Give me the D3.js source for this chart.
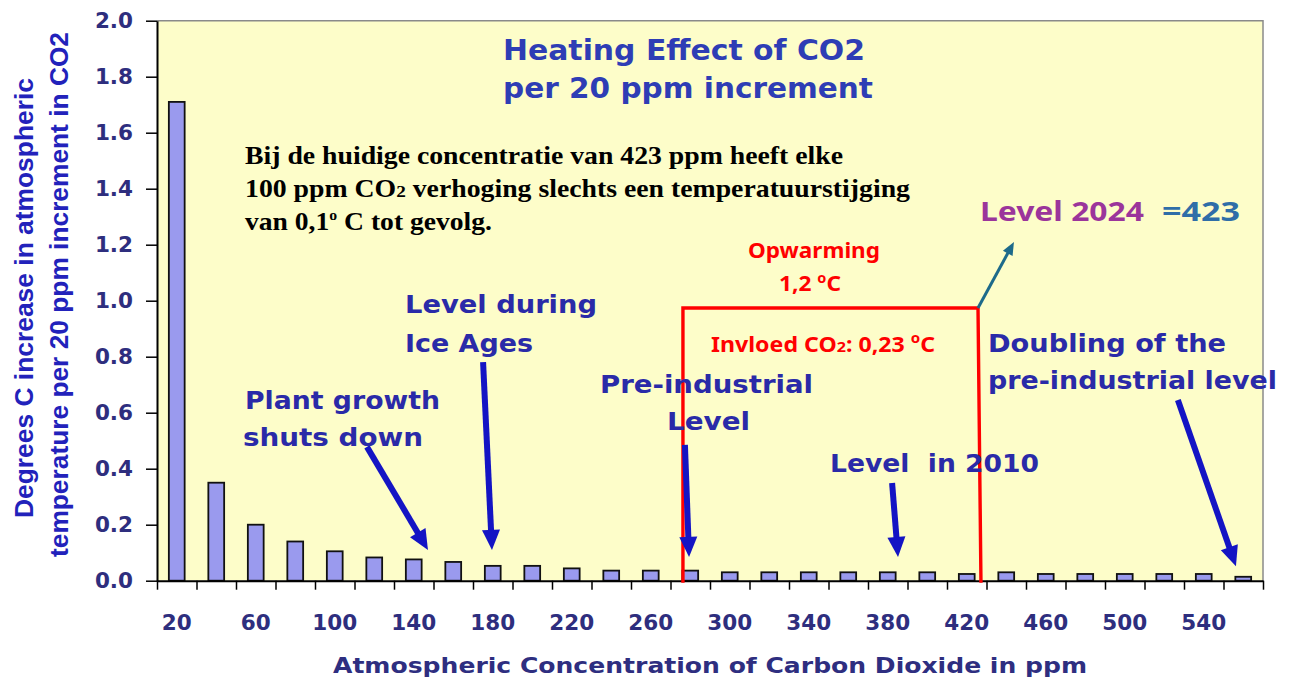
<!DOCTYPE html>
<html>
<head>
<meta charset="utf-8">
<script src="https://cdn.jsdelivr.net/npm/d3@7"></script>
<style>
  body { margin: 0; background: #fff; }
  svg { display: block; }
  text { white-space: pre; }
</style>
</head>
<body>
<div class="chart"></div>
<script>
(function() {
  // CO2 concentration (ppm), one bar per 20 ppm step
  var ppm = [20, 40, 60, 80, 100, 120, 140, 160, 180, 200, 220, 240, 260, 280,
             300, 320, 340, 360, 380, 400, 420, 440, 460, 480, 500, 520, 540, 560];
  // degrees C per 20 ppm increment
  var degrees = [1.71, 0.35, 0.20, 0.14, 0.105, 0.083, 0.076, 0.067, 0.053, 0.053,
                 0.044, 0.036, 0.036, 0.036, 0.030, 0.030, 0.030, 0.030, 0.030, 0.030,
                 0.024, 0.030, 0.024, 0.024, 0.024, 0.024, 0.024, 0.014];
  var xTickLabels = [20, 60, 100, 140, 180, 220, 260, 300, 340, 380, 420, 460, 500, 540];
  var yTicks = [0, 0.2, 0.4, 0.6, 0.8, 1.0, 1.2, 1.4, 1.6, 1.8, 2.0];

  var width = 1106, height = 560;
  var svg = d3.select('.chart').append('svg')
    .attr('width', 1293)
    .attr('height', 682);

  var g = svg.append('g').attr('transform', 'translate(157,20.7)');

  var x = d3.scaleBand().domain(ppm).range([0, width]).paddingInner(0.6).paddingOuter(0.3);
  var xLin = d3.scaleLinear().domain([ppm[0] - 10, ppm[ppm.length - 1] + 10]).range([0, width]);
  var y = d3.scaleLinear().domain([0, 2]).range([height, 0]);

  // plot area
  g.append('rect').attr('width', width).attr('height', height).attr('fill', '#fdfdc9');
  g.append('path')
    .attr('d', 'M0,0H' + width + 'V' + height)
    .attr('fill', 'none').attr('stroke', '#8a8a8a').attr('stroke-width', 1.5);

  // bars
  g.selectAll('.bar')
    .data(ppm)
    .enter()
    .append('rect')
    .attr('class', 'bar')
    .attr('x', function(d) { return x(d); })
    .attr('y', function(d, i) { return y(degrees[i]); })
    .attr('width', x.bandwidth())
    .attr('height', function(d, i) { return height - y(degrees[i]); })
    .attr('fill', '#9a9aee')
    .attr('stroke', '#111')
    .attr('stroke-width', 1.8);

  // y axis
  var yAxis = g.append('g')
    .call(d3.axisLeft(y).tickValues(yTicks).tickFormat(d3.format('.1f'))
      .tickSize(11).tickSizeOuter(0).tickPadding(13));
  yAxis.select('.domain').attr('stroke', '#000').attr('stroke-width', 2);
  yAxis.selectAll('.tick line').attr('stroke', '#000').attr('stroke-width', 1.5);
  yAxis.selectAll('text').attr('fill', '#2e2e7e')
    .style('font-family', '"DejaVu Sans"').style('font-weight', 'bold').style('font-size', '21.5px');

  // x axis: tick marks on the band edges
  var edges = ppm.map(function(d) { return d - 10; }).concat([ppm[ppm.length - 1] + 10]);
  var xAxis = g.append('g')
    .attr('transform', 'translate(0,' + height + ')')
    .call(d3.axisBottom(xLin).tickValues(edges).tickFormat('').tickSize(9).tickSizeOuter(0));
  xAxis.select('.domain').attr('stroke', '#000').attr('stroke-width', 2);
  xAxis.selectAll('.tick line').attr('stroke', '#000').attr('stroke-width', 1.5);

  // x labels under every other bar
  var xLab = g.append('g')
    .attr('transform', 'translate(0,' + height + ')')
    .call(d3.axisBottom(x).tickValues(xTickLabels).tickSize(0).tickPadding(34));
  xLab.select('.domain').remove();
  xLab.selectAll('text').attr('fill', '#2e2e7e')
    .style('font-family', '"DejaVu Sans"').style('font-weight', 'bold').style('font-size', '21.5px');

  // helper for stretched text
  function txt(px, py, str, size, fam, color, len, anchor) {
    var t = svg.append('text')
      .attr('x', px).attr('y', py)
      .attr('fill', color)
      .style('font-family', fam)
      .style('font-weight', 'bold')
      .style('font-size', size + 'px')
      .attr('text-anchor', anchor || 'start')
      .text(str);
    if (len) t.attr('textLength', len).attr('lengthAdjust', 'spacingAndGlyphs');
    return t;
  }

  var sans = '"DejaVu Sans", Verdana, sans-serif';
  var noto = '"Noto Sans", sans-serif';
  var serif = '"Liberation Serif", "Times New Roman", serif';
  var narrow = '"Liberation Sans Narrow", "Arial Narrow", "Liberation Sans", sans-serif';

  // axis titles
  txt(710, 673, 'Atmospheric Concentration of Carbon Dioxide in ppm', 21, sans, '#2e2e80', 754, 'middle');
  txt(0, 0, 'Degrees C increase in atmospheric', 26, narrow, '#2222bb', 440, 'middle')
    .attr('transform', 'translate(33,298) rotate(-90)');
  txt(0, 0, 'temperature per 20 ppm increment in CO2', 26, narrow, '#2222bb', 525, 'middle')
    .attr('transform', 'translate(68,294.5) rotate(-90)');

  // chart title
  txt(503, 60, 'Heating Effect of CO2', 28, sans, '#2e3db5', 362);
  txt(503, 98, 'per 20 ppm increment', 28, sans, '#2e3db5', 370);

  // Dutch note
  txt(245, 164, 'Bij de huidige concentratie van 423 ppm heeft elke', 24.5, serif, '#000', 598);
  var l2 = txt(245, 197, '', 24.5, serif, '#000', 665);
  l2.append('tspan').text('100 ppm CO');
  l2.append('tspan').style('font-size', '17px').text('2');
  l2.append('tspan').text(' verhoging slechts een temperatuurstijging');
  var l3 = txt(245, 230, '', 24.5, serif, '#000', 247);
  l3.append('tspan').text('van 0,1');
  l3.append('tspan').attr('dy', -10).style('font-size', '14px').text('o');
  l3.append('tspan').attr('dy', 10).text(' C tot gevolg.');

  // level 2024
  txt(980, 221, 'Level 2024', 27, noto, '#9b359b', 164);
  txt(1162, 221, '=423', 27, noto, '#2f6ea8', 78);

  // red annotations
  txt(814, 258, 'Opwarming', 22, noto, '#ff0000', 132, 'middle');
  var w1 = txt(810, 291, '', 22, noto, '#ff0000', 62, 'middle');
  w1.append('tspan').text('1,2 ');
  w1.append('tspan').attr('dy', -8).style('font-size', '14px').text('o');
  w1.append('tspan').attr('dy', 8).text('C');
  var w2 = txt(711, 352, '', 21.5, noto, '#ff0000', 224);
  w2.append('tspan').text('Invloed CO');
  w2.append('tspan').style('font-size', '15px').text('2');
  w2.append('tspan').text(': 0,23 ');
  w2.append('tspan').attr('dy', -9).style('font-size', '14px').text('o');
  w2.append('tspan').attr('dy', 9).text('C');

  // red bracket from pre-industrial to today
  var box = [[276.3, -0.007], [276.3, 0.974], [425.7, 0.974], [427.2, -0.007]];
  g.append('path')
    .attr('d', d3.line().x(function(d) { return xLin(d[0]); }).y(function(d) { return y(d[1]); })(box))
    .attr('fill', 'none').attr('stroke', '#ff0000').attr('stroke-width', 3.4);

  // blue labels
  var navy = '#2a2aa8';
  txt(405, 313, 'Level during', 25, sans, navy, 192);
  txt(405, 352, 'Ice Ages', 25, sans, navy, 128);
  txt(245, 409, 'Plant growth', 25, sans, navy, 195);
  txt(243, 446, 'shuts down', 25, sans, navy, 180);
  txt(600, 393, 'Pre-industrial', 25, sans, navy, 213);
  txt(667, 430, 'Level', 25, sans, navy, 83);
  txt(830, 472, 'Level  in 2010', 25, sans, navy, 209);
  txt(988, 352, 'Doubling of the', 25, sans, navy, 238);
  txt(988, 389, 'pre-industrial level', 25, sans, navy, 289);

  // arrows, in data units (ppm, degrees)
  function arrow(a, b, color, sw, headLen, headW) {
    var x1 = xLin(a[0]), y1 = y(a[1]), x2 = xLin(b[0]), y2 = y(b[1]);
    var dx = x2 - x1, dy = y2 - y1, L = Math.sqrt(dx * dx + dy * dy);
    var ux = dx / L, uy = dy / L;
    var bx = x2 - ux * headLen, by = y2 - uy * headLen;
    g.append('line')
      .attr('x1', x1).attr('y1', y1).attr('x2', bx + ux * 2).attr('y2', by + uy * 2)
      .attr('stroke', color).attr('stroke-width', sw);
    g.append('path')
      .attr('d', 'M' + x2 + ',' + y2 +
        'L' + (bx - uy * headW / 2) + ',' + (by + ux * headW / 2) +
        'L' + (bx + uy * headW / 2) + ',' + (by - ux * headW / 2) + 'Z')
      .attr('fill', color);
  }
  var blue = '#1414c4';
  arrow([116.3, 0.478], [147.2, 0.110], blue, 6, 20, 18);
  arrow([175.1, 0.781], [179.6, 0.110], blue, 6, 20, 18);
  arrow([277.3, 0.485], [279.4, 0.085], blue, 6, 20, 18);
  arrow([382.2, 0.349], [385.2, 0.085], blue, 6, 20, 18);
  arrow([526.9, 0.645], [556.3, 0.052], blue, 6, 20, 18);
  arrow([425.7, 0.974], [443.9, 1.21], '#1d6a8a', 3, 13, 11);
})();
</script>
</body>
</html>
